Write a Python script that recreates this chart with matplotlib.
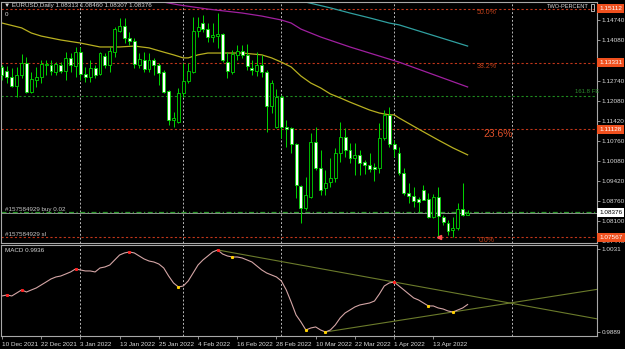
import matplotlib.pyplot as plt
from matplotlib.patches import Rectangle
from matplotlib.transforms import blended_transform_factory

plt.rcParams['font.family'] = ['Liberation Sans', 'DejaVu Sans']

# ----- daily EURUSD bars, bar 0 = 10 Dec 2021
opens = [1.1319, 1.1306, 1.1286, 1.1256, 1.1293, 1.1332, 1.1236, 1.1276, 1.1286, 1.1326,
         1.1326, 1.1302, 1.1326, 1.1306, 1.1349, 1.1322, 1.1368, 1.1296, 1.1286, 1.1316,
         1.1296, 1.1355, 1.1326, 1.1368, 1.1438, 1.1454, 1.1415, 1.1405, 1.1326, 1.1342,
         1.1312, 1.1342, 1.1326, 1.1302, 1.1240, 1.1144, 1.1137, 1.1233, 1.1273, 1.1302,
         1.1438, 1.1464, 1.1444, 1.1418, 1.1421, 1.1428, 1.1335, 1.1302, 1.1359, 1.1372,
         1.1359, 1.1316, 1.1306, 1.1326, 1.1302, 1.1190, 1.1121, 1.1220, 1.1121, 1.1118,
         1.1065, 1.0926, 1.0854, 1.0890, 1.1071, 1.0986, 1.0920, 1.0939, 1.0953, 1.1035,
         1.1088, 1.1045, 1.1019, 1.1029, 1.1005, 1.0996, 1.0989, 1.0986, 1.1085, 1.1161,
         1.1065, 1.1035, 1.0969, 1.0903, 1.0893, 1.0883, 1.0913, 1.0883, 1.0824, 1.0890,
         1.0824, 1.0804, 1.0781, 1.0788, 1.0850, 1.08313]
highs = [1.1326, 1.1322, 1.1316, 1.1319, 1.1362, 1.1352, 1.1302, 1.1319, 1.1342, 1.1342,
         1.1342, 1.1335, 1.1335, 1.1368, 1.1365, 1.1385, 1.1385, 1.1319, 1.1342, 1.1326,
         1.1368, 1.1365, 1.1385, 1.1451, 1.1481, 1.1481, 1.1434, 1.1415, 1.1365, 1.1368,
         1.1365, 1.1349, 1.1332, 1.1309, 1.1243, 1.1170, 1.1250, 1.1332, 1.1332, 1.1484,
         1.1484, 1.1491, 1.1464, 1.1464, 1.1497, 1.1431, 1.1368, 1.1375, 1.1392, 1.1392,
         1.1395, 1.1342, 1.1368, 1.1359, 1.1309, 1.1276, 1.1246, 1.1227, 1.1144, 1.1121,
         1.1068, 1.0930, 1.0956, 1.1101, 1.1121, 1.1045, 1.0979, 1.1019, 1.1052, 1.1137,
         1.1118, 1.1068, 1.1068, 1.1045, 1.1012, 1.1035, 1.1002, 1.1134, 1.1177, 1.1187,
         1.1078, 1.1055, 1.0986, 1.0936, 1.0923, 1.0890, 1.0930, 1.0903, 1.0900, 1.0923,
         1.0831, 1.0814, 1.0824, 1.0870, 1.0936, 1.08460]
lows = [1.1276, 1.1266, 1.1253, 1.1220, 1.1283, 1.1233, 1.1233, 1.1253, 1.1266, 1.1293,
        1.1293, 1.1293, 1.1299, 1.1276, 1.1302, 1.1286, 1.1276, 1.1269, 1.1269, 1.1283,
        1.1293, 1.1316, 1.1302, 1.1352, 1.1434, 1.1398, 1.1392, 1.1316, 1.1316, 1.1302,
        1.1302, 1.1293, 1.1260, 1.1233, 1.1128, 1.1121, 1.1134, 1.1220, 1.1266, 1.1299,
        1.1418, 1.1434, 1.1401, 1.1401, 1.1382, 1.1335, 1.1283, 1.1296, 1.1342, 1.1349,
        1.1309, 1.1293, 1.1289, 1.1286, 1.1104, 1.1167, 1.1118, 1.1085, 1.1055, 1.1035,
        1.0887, 1.0804, 1.0847, 1.0887, 1.0979, 1.0897, 1.0897, 1.0923, 1.0939, 1.1005,
        1.1022, 1.1002, 1.0963, 1.0963, 1.0966, 1.0972, 1.0943, 1.0969, 1.1078, 1.1055,
        1.1022, 1.0963, 1.0897, 1.0870, 1.0857, 1.0840, 1.0880, 1.0821, 1.0821, 1.0755,
        1.0798, 1.0765, 1.0758, 1.0781, 1.0827, 1.08302]
closes = [1.1293, 1.1286, 1.1256, 1.1293, 1.1332, 1.1236, 1.1279, 1.1286, 1.1329, 1.1329,
          1.1306, 1.1329, 1.1306, 1.1349, 1.1326, 1.1368, 1.1296, 1.1286, 1.1316, 1.1293,
          1.1365, 1.1326, 1.1372, 1.1444, 1.1454, 1.1415, 1.1405, 1.1329, 1.1345, 1.1312,
          1.1342, 1.1326, 1.1299, 1.1236, 1.1144, 1.1151, 1.1233, 1.1273, 1.1306, 1.1438,
          1.1451, 1.1444, 1.1418, 1.1425, 1.1428, 1.1342, 1.1306, 1.1362, 1.1372, 1.1359,
          1.1322, 1.1309, 1.1326, 1.1302, 1.1190, 1.1266, 1.1220, 1.1121, 1.1114, 1.1065,
          1.0930, 1.0854, 1.0897, 1.1071, 1.0986, 1.0913, 1.0936, 1.0953, 1.1035, 1.1088,
          1.1045, 1.1019, 1.1029, 1.1002, 1.0996, 1.0982, 1.0982, 1.1085, 1.1161, 1.1065,
          1.1048, 1.0969, 1.0903, 1.0893, 1.0877, 1.0873, 1.0880, 1.0824, 1.0890, 1.0827,
          1.0807, 1.0778, 1.0788, 1.0850, 1.0831, 1.08376]

# moving averages at some bars
ma_yellow_idx = [0, 4, 6, 8, 12, 16, 20, 24, 27, 30, 33, 35, 37, 38, 40, 42, 49, 53, 55, 57,
                 59, 61, 63, 65, 67, 69, 71, 73, 75, 77, 79, 80, 81, 85, 89, 92, 95]
ma_yellow = [1.1464, 1.1448, 1.1431, 1.1421, 1.1408, 1.1398, 1.1385, 1.1385, 1.1388, 1.1382,
             1.1368, 1.1359, 1.1349, 1.1349, 1.1359, 1.1365, 1.1365, 1.1359, 1.1349, 1.1335,
             1.1319, 1.1289, 1.1266, 1.1250, 1.1230, 1.1217, 1.1203, 1.1190, 1.1177, 1.1167,
             1.1161, 1.1161, 1.1151, 1.1114, 1.1078, 1.1052, 1.1029]
ma_magenta_idx = [30, 33, 36, 39, 42, 49, 53, 57, 59, 61, 65, 71, 75, 81, 95]
ma_magenta = [1.1543, 1.1533, 1.1524, 1.1517, 1.1510, 1.1497, 1.1487, 1.1474, 1.1464, 1.1444,
              1.1418, 1.1385, 1.1365, 1.1335, 1.1253]
ma_teal_idx = [59, 62, 67, 71, 75, 79, 81, 95]
ma_teal = [1.1547, 1.1533, 1.1514, 1.1497, 1.1481, 1.1464, 1.1458, 1.1388]

# levels
fibo_names = ['50.0%', '38.2%', '23.6%', '0.0%']
fibo_values = [1.15112, 1.13331, 1.11128, 1.07567]
fe_value = 1.1223
buy_price = 1.0840
bid = 1.08376
price_ticks = [1.14740, 1.14080, 1.12740, 1.12080, 1.11420, 1.10760,
               1.10080, 1.09420, 1.08760, 1.08100, 1.07440]
separators = [16, 37, 57, 80, 104]
date_idx = [0, 8, 16, 24, 32, 40, 48, 56, 64, 72, 80, 88]
date_labels = ['10 Dec 2021', '22 Dec 2021', '3 Jan 2022', '13 Jan 2022', '25 Jan 2022',
               '4 Feb 2022', '16 Feb 2022', '28 Feb 2022', '10 Mar 2022', '22 Mar 2022',
               '1 Apr 2022', '13 Apr 2022']

# MACD indicator window
macd = [0.99506, 0.99523, 0.99506, 0.99557, 0.99609, 0.99574, 0.99609, 0.99643, 0.99694, 0.99745,
        0.99797, 0.99831, 0.99848, 0.99882, 0.99917, 0.99968, 0.99951, 0.99934, 0.99934, 0.99917,
        0.99985, 1.00002, 1.00036, 1.00122, 1.00207, 1.00242, 1.00259, 1.00242, 1.00190, 1.00139,
        1.00104, 1.00087, 1.00053, 0.99985, 0.99848, 0.99728, 0.99660, 0.99677, 0.99763, 0.99899,
        1.00036, 1.00122, 1.00190, 1.00259, 1.00293, 1.00224, 1.00190, 1.00173, 1.00173, 1.00156,
        1.00122, 1.00087, 1.00019, 0.99951, 0.99899, 0.99865, 0.99831, 0.99763, 0.99609, 0.99403,
        0.99181, 0.99061, 0.98924, 0.98958, 0.98976, 0.98924, 0.98890, 0.98924, 0.99010, 0.99130,
        0.99215, 0.99266, 0.99318, 0.99352, 0.99369, 0.99386, 0.99420, 0.99540, 0.99677, 0.99728,
        0.99745, 0.99677, 0.99609, 0.99540, 0.99472, 0.99437, 0.99386, 0.99335, 0.99335, 0.99301,
        0.99283, 0.99249, 0.99232, 0.99266, 0.99301, 0.99360]
peaks = [1, 4, 15, 26, 44, 80]
troughs = [36, 47, 62, 66, 87, 92]

W, H = 625, 349
XMIN, XMAX = -0.2, 121.4
fig = plt.figure(figsize=(W / 100, H / 100), dpi=100, facecolor='black')
ax = fig.add_axes([1 / W, 1 - 243 / H, 596 / W, 241 / H])
ax2 = fig.add_axes([1 / W, 1 - 336 / H, 596 / W, 91 / H])

txt = '#d8d8d8'
green = '#00d800'
for a in (ax, ax2):
    a.set_facecolor('black')
    for s in a.spines.values():
        s.set_color('#a8a8a8')
        s.set_linewidth(0.8)
    a.set_xlim(XMIN, XMAX)
    a.yaxis.tick_right()
    a.tick_params(axis='y', colors='#a8a8a8', labelcolor=txt, labelsize=4.6, length=2, width=0.6, pad=1.5)
    for sep in separators:
        a.axvline(sep, color='#b8b8b8', ls=(0, (2, 2)), lw=0.7, zorder=1)

# ----- main chart
ax.set_ylim(1.07381, 1.15334)
ax.set_xticks([])
ax.set_yticks(price_ticks)
ax.set_yticklabels(['%.5f' % v for v in price_ticks])

for name, v in zip(fibo_names, fibo_values):
    ax.axhline(v, color='#c0361a', ls=(0, (2, 2)), lw=0.8, zorder=1)
ax.axhline(fe_value, color='#1f8a1f', ls=(0, (2, 2)), lw=0.8, zorder=1)
ax.axhline(bid, color='#909090', lw=0.7, zorder=1)
ax.axhline(buy_price, color='#2a9a2a', ls=(0, (4, 2, 1, 2)), lw=0.9, zorder=1)

ax.plot(ma_yellow_idx, ma_yellow, color='#b8b020', lw=0.9, zorder=2)
ax.plot(ma_magenta_idx, ma_magenta, color='#a020a0', lw=0.9, zorder=2)
ax.plot(ma_teal_idx, ma_teal, color='#30a0a0', lw=0.9, zorder=2)

for i in range(len(opens)):
    o, h, l, c = opens[i], highs[i], lows[i], closes[i]
    ax.vlines(i, l, h, color=green, lw=0.7, zorder=3)
    lo, hi = min(o, c), max(o, c)
    body = max(hi - lo, 0.00004)
    ax.add_patch(Rectangle((i - 0.3, lo), 0.6, body, facecolor='white' if c < o else 'black',
                           edgecolor=green, lw=0.6, zorder=4))

ax.plot([89.2], [fibo_values[3]], marker='<', color='#ff5050', ms=3, zorder=5)

# right side price boxes
tr = blended_transform_factory(ax.transAxes, ax.transData)
for v in fibo_values:
    ax.text(1.004, v, '%.5f' % v, transform=tr, va='center', ha='left', fontsize=4.6,
            color='white', clip_on=False, zorder=6,
            bbox=dict(boxstyle='square,pad=0.3', fc='#f0501e', ec='none'))
ax.text(1.004, bid, '%.5f' % bid, transform=tr, va='center', ha='left', fontsize=4.6,
        color='black', clip_on=False, zorder=6,
        bbox=dict(boxstyle='square,pad=0.3', fc='white', ec='none'))


def ft(x, y, s, **kw):
    fig.text(x / W, 1 - y / H, s, va='center', ha='left', **kw)


ft(4, 6, '\u25bc EURUSD,Daily 1.08313 1.08460 1.08307 1.08376', fontsize=4.5, color=txt)
ft(5, 14, '0', fontsize=4.5, color=txt)
ft(547, 7, 'TWO-PERCENT', fontsize=4.1, color=txt)
fig.patches.append(Rectangle((591 / W, 1 - 11 / H), 3 / W, 7 / H, transform=fig.transFigure,
                             fill=False, ec='#d0d0d0', lw=0.6))
ft(477, 12, '50.0%', fontsize=5, color='#c0401a')
ft(477, 67, '38.2%', fontsize=5, color='#c0401a')
ft(483, 134, '23.6%', fontsize=7.5, color='#e0502a')
ft(479, 241, '0.0%', fontsize=5, color='#c0401a')
ft(575, 92, '161.8 FE', fontsize=4.3, color='#2e8b2e')
ft(5, 209, '#157584929 buy 0.02', fontsize=4.5, color='#c8c8c8')
ft(5, 234, '#157584929 sl', fontsize=4.5, color='#c8c8c8')

# ----- MACD window
ax2.set_ylim(0.98821, 1.00378)
ax2.set_yticks([1.0031, 0.9889])
ax2.set_yticklabels(['1.0031', '0.9889'])
ax2.set_xticks(date_idx)
ax2.set_xticklabels(date_labels)
ax2.tick_params(axis='x', colors='#a8a8a8', labelcolor=txt, labelsize=4.6, length=2, width=0.6, pad=2)
for lab in ax2.get_xticklabels():
    lab.set_ha('left')

ax2.plot(range(len(macd)), macd, color='#d4a5a5', lw=0.8, zorder=3)
ax2.plot(peaks, [macd[i] for i in peaks], 's', color='#ff2020', ms=1.2, zorder=4)
ax2.plot(troughs, [macd[i] for i in troughs], 's', color='#ffd000', ms=1.2, zorder=4)

for a, b in [(peaks[4], peaks[5]), (troughs[3], troughs[5])]:
    slope = (macd[b] - macd[a]) / (b - a)
    ax2.plot([a, XMAX], [macd[a], macd[a] + slope * (XMAX - a)], color='#6b7b2b', lw=0.8, zorder=2)

ft(5, 251, 'MACD 0.9936', fontsize=4.5, color=txt)

fig.savefig('out.png', dpi=100, facecolor='black')
